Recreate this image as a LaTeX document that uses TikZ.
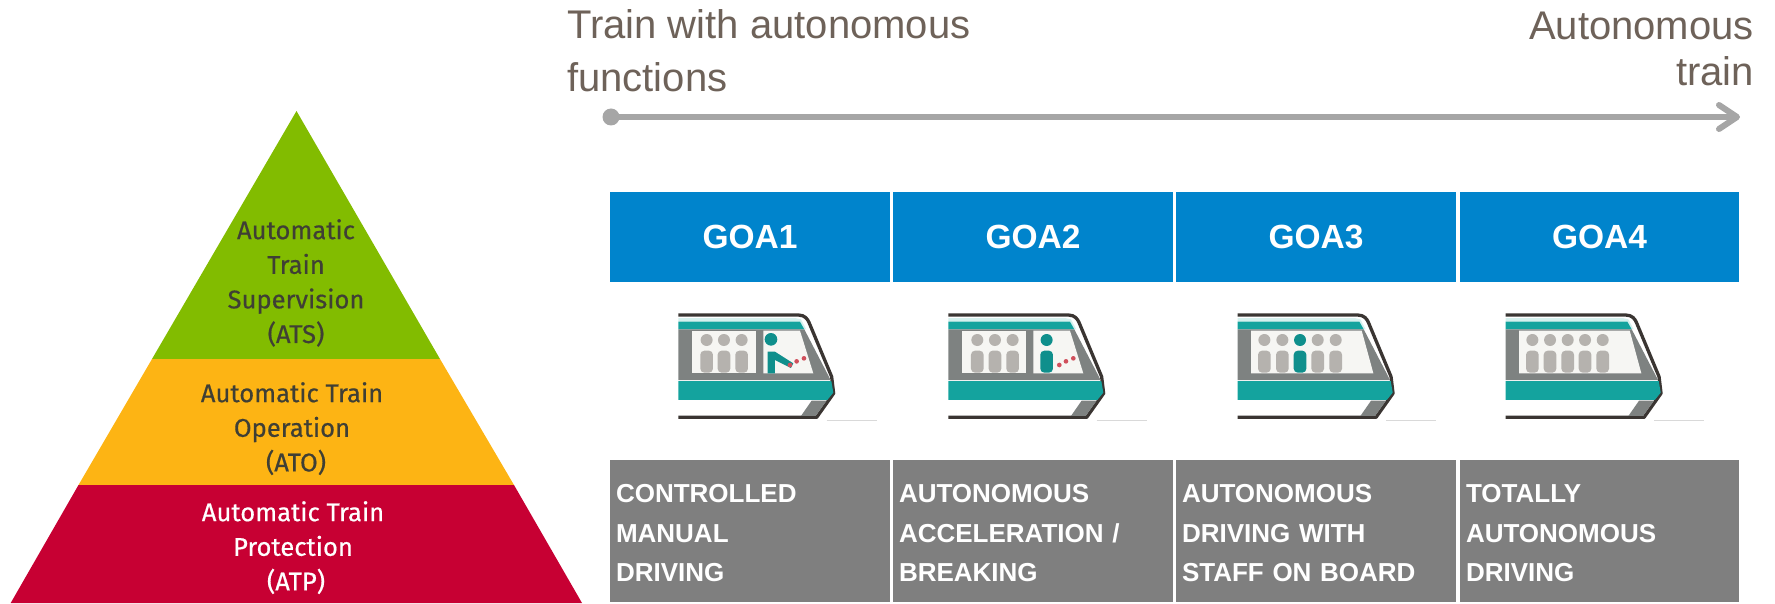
\documentclass[tikz,border=0pt]{standalone}
\usepackage{fontspec}
\setmainfont{Liberation Sans}
\newfontfamily\pyrfont[FakeBold=0.5]{Fira Sans}
\usetikzlibrary{arrows.meta}
\definecolor{titlecol}{HTML}{6E6259}
\definecolor{arrowcol}{HTML}{A6A6A6}
\definecolor{goablue}{HTML}{0084CC}
\definecolor{goagrey}{HTML}{7F7F7F}
\definecolor{pgreen}{HTML}{82BC00}
\definecolor{pamber}{HTML}{FDB414}
\definecolor{pred}{HTML}{C70033}
\definecolor{pdark}{HTML}{3F3F35}
\definecolor{tteal}{HTML}{14A39E}
\definecolor{tdriver}{HTML}{0F8F8C}
\definecolor{tbody}{HTML}{7E8281}
\definecolor{tdark}{HTML}{3A3532}
\definecolor{tpeople}{HTML}{B5B2AE}
\definecolor{twindow}{HTML}{F6F6F3}
\definecolor{tdots}{HTML}{D0505C}
\definecolor{tlight}{HTML}{D5F0EE}
\tikzset{
  titletext/.style={inner sep=0pt,text=titlecol,font=\fontsize{40}{53}\selectfont},
  goahead/.style={fill=goablue,text=white,inner sep=0pt,minimum width=#1,minimum height=90pt,font=\bfseries\fontsize{33.5}{40}\selectfont},
  goadesc/.style={fill=goagrey,text=white,inner xsep=6pt,inner ysep=0pt,minimum height=142pt,text width=#1,align=left,font=\bfseries\fontsize{26}{39.5}\selectfont},
  pyrtext/.style={inner sep=0pt,align=center,font=\pyrfont\fontsize{25.6}{34.6}\selectfont},
}
\newcommand{\goatop}{\rule{0pt}{23pt}}
\newcommand{\goatrainbase}{%
  \draw[tdark,line width=3.3pt,line join=round] (0,105) -- (360,105) .. controls (380,105) and (388,118) .. (392,127) -- (460,290) -- (466,340) -- (415,412) -- (0,412);
  \fill[tlight] (0,114) -- (350,114) -- (368,118) -- (384,148) -- (378,148) -- (365,125) -- (0,125) -- cycle;
  \fill[tteal] (0,125) -- (365,125) -- (378,148) -- (0,148) -- cycle;
  \fill[tbody] (0,148) -- (378,148) -- (457,300) -- (0,300) -- cycle;
  \fill[tteal] (0,303) -- (459,303) -- (465,338) -- (447,360) -- (0,360) -- cycle;
  \fill[tbody] (400,362) -- (445,362) -- (412,408) -- (368,408) -- cycle;
  \draw[black!15,line width=0.6pt] (445,420) -- (595,420);
}
\newcommand{\goaperson}[2]{%
  \fill[#2] (#1,180) circle[radius=18];
  \fill[#2,rounded corners=4pt] (#1-19,278) -- (#1-19,212) -- (#1+19,212) -- (#1+19,278) -- cycle;
}
\newcommand{\goadots}[3]{%
  \fill[tdots] (#1,255) circle[radius=7] (#2,244) circle[radius=7] (#3,235) circle[radius=7];
}
\begin{document}
\begin{tikzpicture}[x=1pt,y=-1pt]
\useasboundingbox (0,0) rectangle (1775,604);
% pyramid
\fill[pgreen] (296.5,111) -- (440,359) -- (152,359) -- cycle;
\fill[pamber] (152,359) -- (440,359) -- (514,485) -- (78.5,485) -- cycle;
\fill[pred] (78.5,485) -- (514,485) -- (582,603) -- (10.7,603) -- cycle;
\node[pyrtext,text=pdark,anchor=north] (ats) at (296,219) {Automatic\\Train\\Supervision\\(ATS)};
\node[pyrtext,text=pdark,anchor=north] (ato) at (292,382) {Automatic Train\\Operation\\\hspace*{8pt}(ATO)};
\node[pyrtext,text=white,anchor=north] (atp) at (293,501) {Automatic Train\\Protection\\\hspace*{6pt}(ATP)};
% titles
\node[titletext,anchor=north west,align=left] (tl) at (567,9) {Train with autonomous\\functions};
\node[titletext,anchor=north east,align=right,font=\fontsize{40}{46}\selectfont] (tr) at (1754,12) {Autonomous\\train};
% arrow
\node[circle,fill=arrowcol,minimum size=17pt,inner sep=0pt] (start) at (611,117) {};
\coordinate (finish) at (1740,117);
\draw[arrowcol,line width=6pt,-{Straight Barb[length=18pt,width=24pt,round]}] (start.center) -- (finish);
% headers
\node[goahead=280pt] (g1) at (750,237) {GOA1};
\node[goahead=280pt] (g2) at (1033,237) {GOA2};
\node[goahead=280pt] (g3) at (1316,237) {GOA3};
\node[goahead=279pt] (g4) at (1599.5,237) {GOA4};
% descriptions
\node[goadesc=268pt] (d1) at (750,531) {\goatop CONTROLLED\\MANUAL\\DRIVING};
\node[goadesc=268pt] (d2) at (1033,531) {\goatop AUTONOMOUS\\ACCELERATION /\\BREAKING};
\node[goadesc=268pt] (d3) at (1316,531) {\goatop AUTONOMOUS\\DRIVING WITH\\STAFF ON BOARD};
\node[goadesc=267pt] (d4) at (1599.5,531) {\goatop TOTALLY\\AUTONOMOUS\\DRIVING};
% trains
\begin{scope}[shift={(678.3,280)},x=0.33333pt,y=-0.33333pt]
  \goatrainbase
  \fill[twindow] (40,152) rectangle (233,278);
  \fill[twindow] (255,152) -- (365,152) -- (405,280) -- (255,280) -- cycle;
  \goaperson{85}{tpeople}\goaperson{137}{tpeople}\goaperson{190}{tpeople}
  \fill[tdriver] (278,178) circle[radius=19];
  \fill[tdriver] (268,215) -- (290,215) -- (345,250) -- (338,264) -- (290,240) -- (290,280) -- (268,280) -- cycle;
  \goadots{335}{355}{377}
\end{scope}
\begin{scope}[shift={(948.3,280)},x=0.33333pt,y=-0.33333pt]
  \goatrainbase
  \fill[twindow] (42,152) rectangle (233,278);
  \fill[twindow] (255,152) -- (365,152) -- (405,280) -- (255,280) -- cycle;
  \goaperson{87}{tpeople}\goaperson{140}{tpeople}\goaperson{193}{tpeople}
  \goaperson{295}{tdriver}
  \goadots{333}{353}{375}
\end{scope}
\begin{scope}[shift={(1237.7,280)},x=0.33333pt,y=-0.33333pt]
  \goatrainbase
  \fill[twindow] (40,152) -- (372,152) -- (407,280) -- (40,280) -- cycle;
  \goaperson{80}{tpeople}\goaperson{134}{tpeople}\goaperson{187}{tdriver}\goaperson{240}{tpeople}\goaperson{294}{tpeople}
\end{scope}
\begin{scope}[shift={(1505.7,280)},x=0.33333pt,y=-0.33333pt]
  \goatrainbase
  \fill[twindow] (40,152) -- (372,152) -- (407,280) -- (40,280) -- cycle;
  \goaperson{80}{tpeople}\goaperson{133}{tpeople}\goaperson{186}{tpeople}\goaperson{238}{tpeople}\goaperson{291}{tpeople}
\end{scope}
\end{tikzpicture}
\end{document}
